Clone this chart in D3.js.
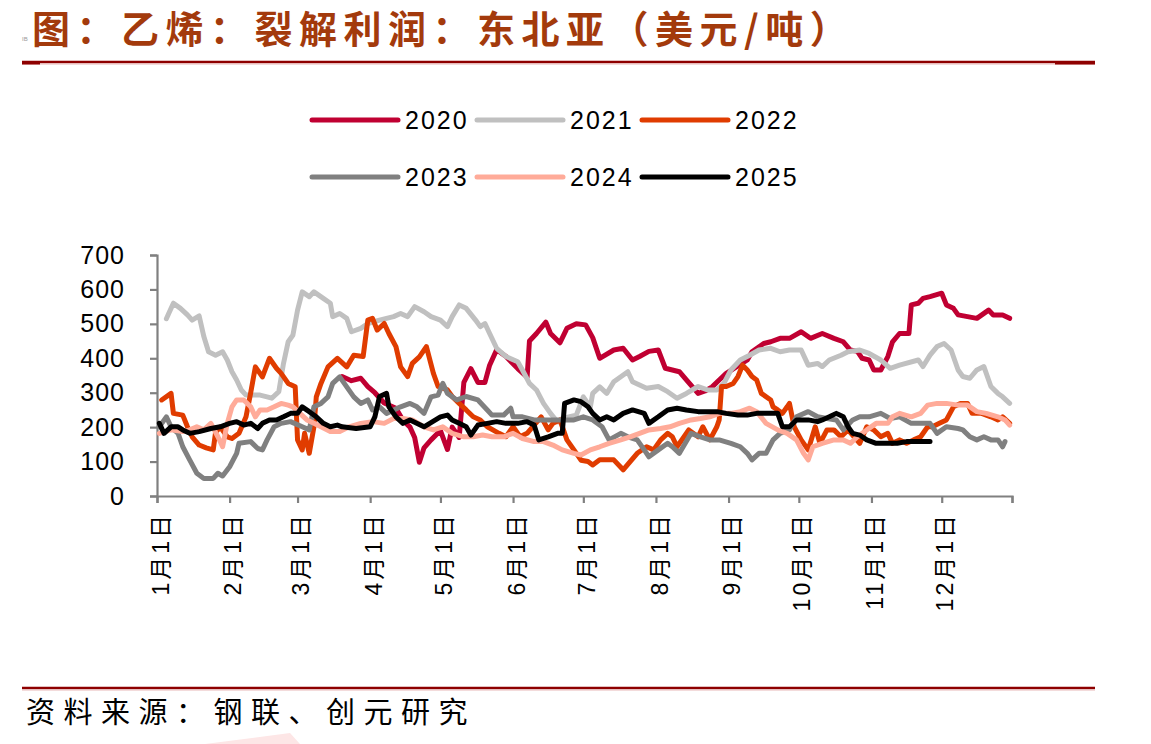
<!DOCTYPE html>
<html>
<head>
<meta charset="utf-8">
<script src="https://cdn.jsdelivr.net/npm/d3@7"></script>
<style>
    body { margin: 0; background: #ffffff; }
    svg { display: block; }
</style>
</head>
<body>
<svg id="chart" width="1151" height="744"></svg>
<script>
// series names and colours
const years = ["2020", "2021", "2022", "2023", "2024", "2025"];
const colors = ["#c00032", "#c0c0c0", "#e03c00", "#808080", "#ffab99", "#000000"];

// y axis tick values
const yTicks = [0, 100, 200, 300, 400, 500, 600, 700];

// each point: [day of year (0 = 1月1日), 美元/吨]
const s2020 = [[79,347],[83,335],[87,342],[90,318],[93,300],[97,270],[102,255],[105,220],[108,200],[110,170],[112,98],[114,140],[117,163],[121,190],[124,135],[126,200],[129,170],[131,330],[134,370],[137,330],[140,330],[142,380],[145,425],[149,405],[154,370],[158,345],[159,450],[162,472],[166,505],[168,472],[172,445],[175,487],[179,500],[183,497],[186,460],[189,400],[195,424],[199,429],[203,395],[206,405],[210,420],[214,424],[217,371],[223,361],[226,337],[231,298],[234,305],[237,317],[240,337],[243,356],[252,395],[254,419],[259,443],[262,448],[266,458],[270,458],[275,477],[279,458],[284,472],[289,458],[293,448],[296,424],[299,420],[301,400],[304,395],[306,366],[309,366],[312,405],[314,448],[317,472],[321,472],[322,555],[325,560],[327,574],[330,579],[335,589],[337,555],[340,545],[342,526],[346,521],[350,516],[355,540],[357,526],[361,526],[364,516]];

const s2021 = [[4,515],[5,530],[7,560],[10,545],[13,526],[15,511],[18,523],[20,463],[22,419],[25,409],[28,419],[30,395],[32,361],[34,337],[36,308],[38,293],[41,293],[44,293],[47,288],[49,284],[52,303],[54,385],[56,448],[58,467],[60,540],[62,593],[65,579],[67,593],[71,574],[74,560],[75,521],[78,530],[81,516],[83,477],[87,487],[90,501],[95,511],[101,521],[104,530],[107,521],[110,550],[114,535],[117,521],[121,511],[124,492],[126,521],[129,555],[132,545],[136,511],[138,492],[140,501],[142,472],[145,429],[149,405],[154,390],[156,366],[159,327],[162,308],[165,269],[168,240],[171,215],[173,225],[179,235],[182,288],[185,259],[186,298],[189,317],[192,298],[195,332],[201,361],[203,332],[209,313],[214,318],[218,303],[222,284],[226,298],[231,318],[235,308],[239,308],[242,327],[245,366],[249,395],[253,409],[257,424],[262,429],[266,419],[270,424],[275,424],[278,380],[282,385],[284,376],[287,395],[292,409],[295,419],[300,424],[304,414],[309,395],[313,371],[317,380],[325,395],[327,376],[330,409],[333,434],[336,443],[339,424],[342,366],[344,347],[347,342],[350,366],[353,376],[356,318],[359,298],[361,288],[364,269]];

const s2022 = [[2,279],[6,298],[7,240],[11,235],[13,201],[15,172],[18,148],[21,140],[24,134],[25,185],[27,200],[30,172],[32,167],[35,182],[38,230],[40,300],[42,375],[45,346],[48,400],[51,371],[53,356],[56,327],[59,317],[60,163],[62,134],[63,182],[65,124],[67,201],[68,288],[70,327],[73,375],[77,400],[81,375],[84,409],[88,405],[90,511],[92,516],[94,482],[97,501],[99,472],[102,434],[104,375],[107,347],[109,385],[112,404],[115,434],[118,356],[120,318],[124,308],[126,289],[129,269],[132,250],[135,230],[138,221],[141,201],[146,182],[149,172],[152,201],[155,172],[158,182],[164,230],[167,192],[169,211],[172,221],[175,163],[178,134],[181,104],[184,100],[186,90],[189,105],[195,105],[199,76],[202,100],[205,124],[209,143],[212,134],[215,163],[218,182],[220,172],[222,143],[225,172],[227,192],[231,172],[233,201],[236,163],[239,201],[240,221],[241,318],[243,318],[246,327],[248,347],[250,380],[252,366],[254,347],[256,337],[258,298],[262,279],[263,259],[265,250],[267,240],[269,259],[270,269],[272,201],[275,163],[278,134],[281,201],[283,153],[286,192],[289,192],[292,172],[295,192],[300,153],[303,201],[306,192],[309,172],[312,182],[314,153],[317,163],[320,153],[323,163],[326,172],[329,201],[331,201],[334,211],[337,221],[340,259],[343,269],[346,269],[348,240],[352,240],[356,230],[359,221],[361,230],[364,211]];

const s2023 = [[1,201],[4,230],[6,201],[9,182],[11,143],[14,104],[17,66],[20,51],[24,51],[26,66],[28,58],[31,85],[34,124],[35,153],[40,158],[43,138],[45,134],[47,163],[50,201],[53,211],[57,216],[62,201],[65,192],[67,259],[70,269],[73,288],[75,327],[78,346],[81,317],[84,288],[87,269],[90,279],[92,250],[95,259],[98,240],[104,259],[108,269],[111,259],[114,240],[117,288],[120,293],[122,327],[124,298],[128,279],[132,289],[137,279],[141,250],[143,235],[148,235],[151,255],[152,230],[156,230],[161,221],[165,221],[173,221],[178,221],[182,230],[186,221],[190,201],[193,163],[198,182],[201,172],[205,163],[208,134],[210,114],[214,134],[218,153],[220,143],[223,124],[228,182],[232,172],[236,163],[240,163],[245,153],[249,143],[252,124],[254,105],[257,124],[260,124],[263,163],[266,182],[270,192],[273,230],[278,245],[282,230],[286,225],[290,221],[293,192],[297,221],[300,230],[304,230],[309,240],[313,225],[317,230],[322,211],[326,211],[330,211],[333,182],[337,201],[342,196],[344,192],[347,172],[350,163],[353,172],[356,163],[359,163],[361,143],[362,158]];

const s2024 = [[1,182],[6,192],[11,187],[14,192],[17,201],[20,192],[23,211],[26,172],[28,143],[30,211],[32,259],[34,279],[37,279],[40,259],[42,230],[44,250],[47,250],[50,259],[53,269],[56,264],[58,259],[61,240],[64,221],[67,211],[70,201],[74,187],[78,187],[82,201],[87,211],[92,216],[97,211],[101,225],[105,225],[109,221],[114,201],[118,192],[122,201],[126,182],[131,172],[135,172],[139,177],[143,172],[148,172],[152,182],[156,167],[161,158],[165,158],[169,148],[173,134],[178,124],[181,119],[185,134],[189,143],[193,153],[198,163],[202,172],[206,182],[210,192],[215,196],[219,201],[223,211],[228,221],[232,225],[236,230],[240,240],[245,240],[249,245],[253,255],[256,245],[260,211],[265,192],[269,182],[273,163],[276,124],[278,105],[280,143],[284,153],[289,163],[293,163],[296,153],[299,172],[303,192],[307,211],[312,211],[314,230],[317,240],[322,230],[326,240],[329,264],[333,269],[337,269],[342,264],[346,264],[350,245],[354,240],[359,230],[362,221],[364,206]];

const s2025 = [[1,211],[3,182],[6,201],[9,201],[11,192],[14,182],[18,187],[23,196],[27,201],[31,211],[34,216],[37,206],[40,211],[43,196],[45,211],[48,221],[51,221],[54,230],[57,240],[60,240],[62,259],[65,245],[68,230],[71,211],[74,201],[77,206],[79,201],[85,196],[91,201],[93,230],[95,289],[98,298],[99,259],[102,230],[105,211],[108,221],[114,201],[121,230],[124,235],[126,221],[129,211],[132,201],[134,177],[137,206],[141,211],[145,216],[149,211],[154,211],[158,216],[161,206],[163,163],[167,172],[171,182],[173,182],[174,269],[178,279],[181,274],[184,259],[186,240],[189,221],[192,230],[195,221],[199,240],[203,250],[208,240],[210,211],[214,230],[218,250],[222,255],[226,250],[231,245],[239,245],[243,240],[248,235],[252,235],[256,240],[260,240],[265,240],[267,201],[270,201],[273,221],[278,221],[282,216],[284,221],[287,230],[290,240],[293,230],[295,201],[297,182],[300,177],[303,163],[307,153],[312,153],[316,153],[320,158],[325,158],[330,158]];

const seriesData = [s2020, s2021, s2022, s2023, s2024, s2025];

const svg = d3.select("#chart");
const cjk = "'Noto Sans CJK SC', sans-serif";
const latin = "'Liberation Sans', Arial, 'Noto Sans CJK SC', sans-serif";

// plot area
const plot = {left: 157, right: 1012, top: 255, bottom: 496};
const yearStart = new Date(2020, 0, 1);
const dayToDate = d => d3.timeDay.offset(yearStart, d);

const x = d3.scaleTime()
    .domain([yearStart, new Date(2020, 11, 31)])
    .range([plot.left, plot.right]);

const y = d3.scaleLinear()
    .domain([0, 700])
    .range([plot.bottom, plot.top]);

// ---- title ----
svg.append("text")
    .attr("x", 22).attr("y", 41)
    .style("font-family", latin).style("font-size", "6px").style("fill", "#999")
    .text("IB");

svg.append("text")
    .attr("x", 32).attr("y", 43)
    .style("font-family", cjk)
    .style("font-size", "38px")
    .style("font-weight", "700")
    .style("letter-spacing", "6.5px")
    .style("fill", "#a33a0c")
    .text("图：乙烯：裂解利润：东北亚（美元/吨）");

// header rule
svg.append("line").attr("x1", 22).attr("x2", 1095).attr("y1", 62).attr("y2", 62)
    .attr("stroke", "#8e0000").attr("stroke-width", 2.5);
svg.append("line").attr("x1", 22).attr("x2", 1095).attr("y1", 64).attr("y2", 64)
    .attr("stroke", "#e8b8b8").attr("stroke-width", 1);
svg.append("line").attr("x1", 22).attr("x2", 40).attr("y1", 63).attr("y2", 63)
    .attr("stroke", "#8e0000").attr("stroke-width", 3);
svg.append("line").attr("x1", 1055).attr("x2", 1095).attr("y1", 63).attr("y2", 63)
    .attr("stroke", "#8e0000").attr("stroke-width", 3);

// ---- legend ----
const legend = svg.append("g").attr("class", "legend");
years.forEach((yr, i) => {
    const col = i % 3, row = Math.floor(i / 3);
    const lx = 312 + col * 165, ly = 120 + row * 57;
    legend.append("line")
        .attr("x1", lx).attr("x2", lx + 86).attr("y1", ly).attr("y2", ly)
        .attr("stroke", colors[i]).attr("stroke-width", 5).attr("stroke-linecap", "round");
    legend.append("text")
        .attr("x", lx + 93).attr("y", ly).attr("dy", "0.35em")
        .style("font-family", latin).style("font-size", "25px").style("letter-spacing", "2px")
        .style("fill", "#000")
        .text(yr);
});

// ---- axes ----
const yAxis = svg.append("g")
    .attr("transform", `translate(${plot.left},0)`)
    .call(d3.axisLeft(y).tickValues(yTicks).tickSize(7).tickPadding(25));
yAxis.selectAll("text")
    .style("font-family", latin).style("font-size", "25px").style("letter-spacing", "1px").style("fill", "#000");

const monthTicks = d3.timeMonth.range(yearStart, new Date(2021, 0, 1));
const xTickValues = monthTicks.concat([new Date(2020, 11, 31)]);
const xAxis = svg.append("g")
    .attr("transform", `translate(0,${plot.bottom})`)
    .call(d3.axisBottom(x)
        .tickValues(xTickValues)
        .tickSize(7)
        .tickFormat((d, i) => i < 12 ? `${d.getMonth() + 1}月1日` : ""));
xAxis.selectAll("text")
    .attr("transform", "translate(3,16) rotate(-90)")
    .attr("x", 0).attr("y", 0).attr("dy", "0.35em")
    .style("text-anchor", "end")
    .style("font-family", latin).style("font-size", "23px").style("letter-spacing", "3px").style("fill", "#000");

[yAxis, xAxis].forEach(a => {
    a.select(".domain").attr("stroke", "#808080").attr("stroke-width", 2.2);
    a.selectAll(".tick line").attr("stroke", "#808080").attr("stroke-width", 2.2);
});

// ---- lines ----
const line = d3.line()
    .x(d => x(dayToDate(d[0])))
    .y(d => y(d[1]));

svg.append("g").attr("class", "series")
    .selectAll("path")
    .data(seriesData)
    .join("path")
    .attr("d", line)
    .attr("fill", "none")
    .attr("stroke", (d, i) => colors[i])
    .attr("stroke-width", 5)
    .attr("stroke-linejoin", "round")
    .attr("stroke-linecap", "round");

// ---- footer ----
svg.append("line").attr("x1", 22).attr("x2", 1095).attr("y1", 688).attr("y2", 688)
    .attr("stroke", "#8e0000").attr("stroke-width", 2.5);
svg.append("line").attr("x1", 22).attr("x2", 1095).attr("y1", 690).attr("y2", 690)
    .attr("stroke", "#e8b8b8").attr("stroke-width", 1);

svg.append("text")
    .attr("x", 26).attr("y", 723)
    .style("font-family", cjk).style("font-size", "29px").style("letter-spacing", "8.5px")
    .style("fill", "#000")
    .text("资料来源：钢联、创元研究");

// faint watermark corner at the bottom edge
svg.append("path")
    .attr("d", "M205,744 L290,733 L300,744 Z")
    .attr("fill", "#fde6e6");
</script>
</body>
</html>
